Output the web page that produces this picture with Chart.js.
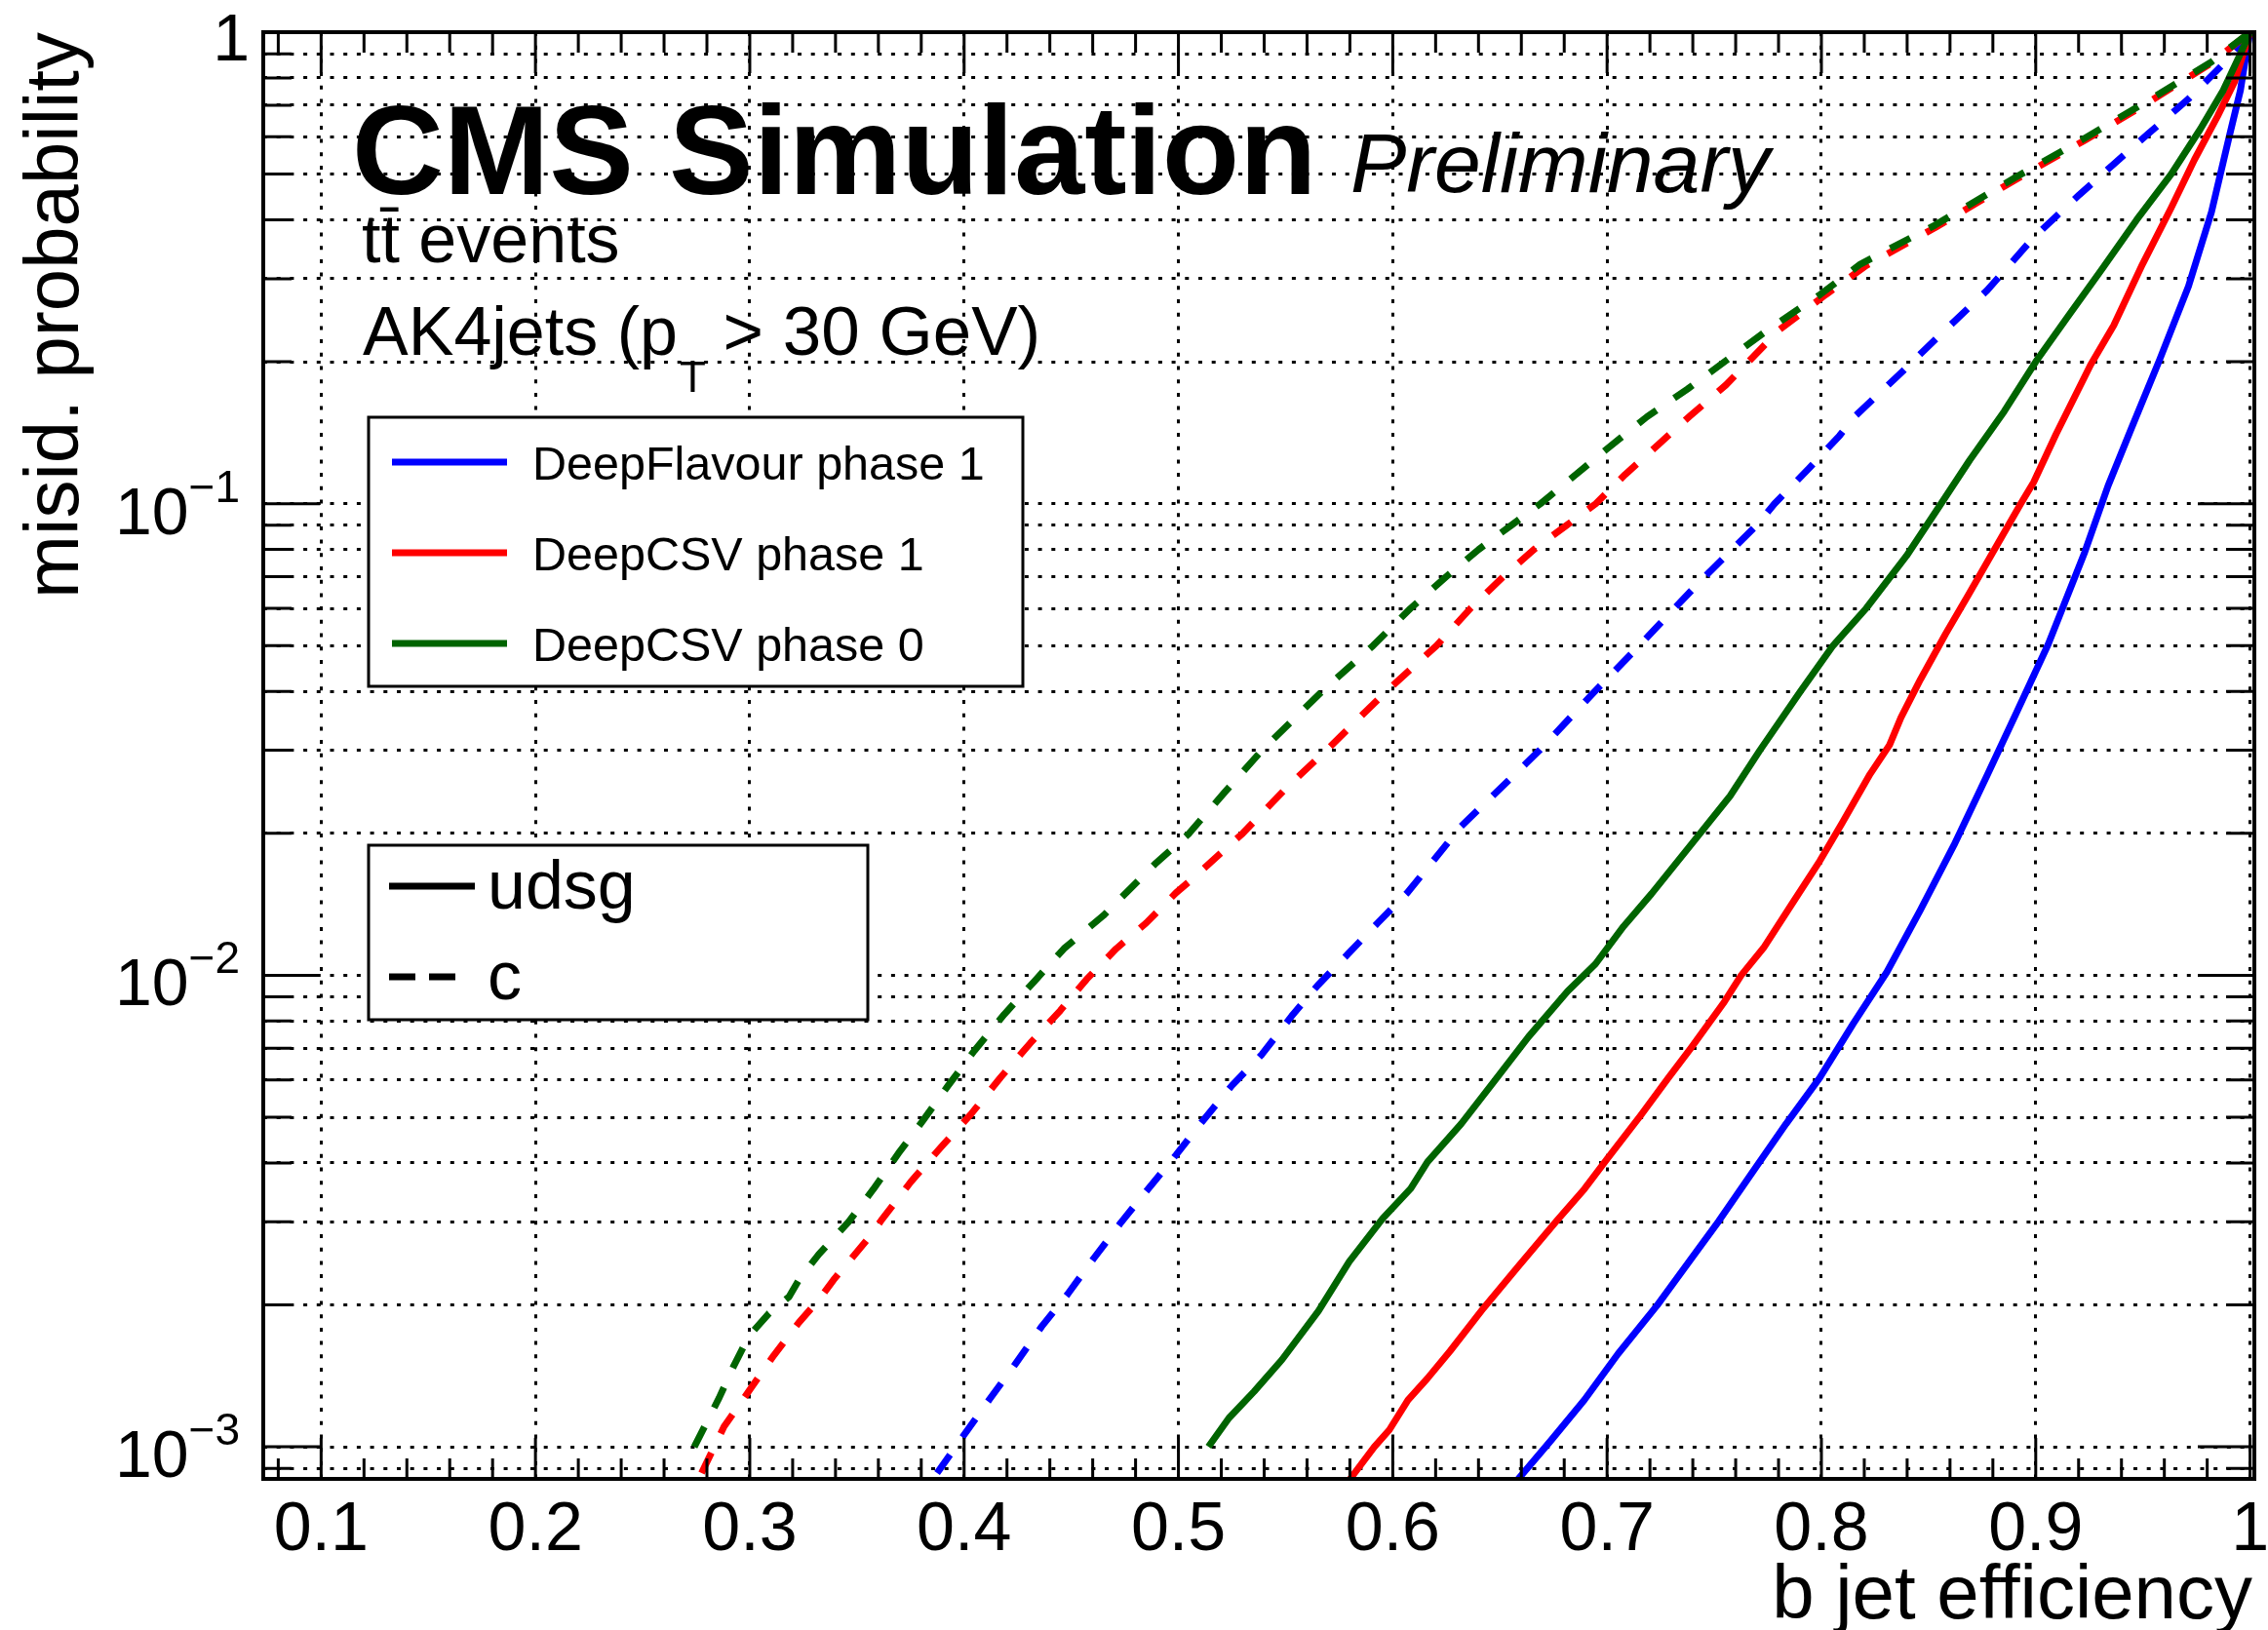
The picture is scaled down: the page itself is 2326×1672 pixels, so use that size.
<!DOCTYPE html>
<html>
<head>
<meta charset="utf-8">
<script src="https://cdn.jsdelivr.net/npm/chart.js@4/dist/chart.umd.min.js"></script>
<style>
  html, body { margin: 0; padding: 0; background: #ffffff; }
  canvas { display: block; }
</style>
</head>
<body>
<canvas id="c" width="2326" height="1672" style="width:2326px;height:1672px"></canvas>
<script>
// ---------------- data ----------------
const seriesNames = ['DeepFlavour phase 1', 'DeepCSV phase 1', 'DeepCSV phase 0'];
const flavourNames = ['udsg', 'c'];
const seriesColors = ['#0000ff', '#ff0000', '#006400'];

// DeepFlavour phase 1, udsg
const dfUdsgX = [0.6581, 0.6737, 0.6894, 0.7051, 0.7234, 0.7391, 0.7521, 0.7678, 0.7835, 0.7992, 0.8149, 0.8305, 0.8462, 0.8619, 0.8776, 0.8906, 0.9058, 0.9229, 0.9337, 0.9444, 0.9578, 0.9713, 0.982, 0.9901, 0.9955, 0.9982, 1.0];
const dfUdsgY = [0.00085, 0.00103, 0.001257, 0.001574, 0.001996, 0.0025, 0.00301, 0.00382, 0.00484, 0.00606, 0.0079, 0.01015, 0.01376, 0.0189, 0.0267, 0.0357, 0.0503, 0.079, 0.109, 0.1436, 0.202, 0.2894, 0.4155, 0.596, 0.753, 0.9, 1.0];
// DeepCSV phase 1, udsg
const csv1UdsgX = [0.5797, 0.5914, 0.5984, 0.6071, 0.6162, 0.6267, 0.6424, 0.6581, 0.6764, 0.6894, 0.6999, 0.7156, 0.7286, 0.7391, 0.7547, 0.7626, 0.7730, 0.7861, 0.7992, 0.8096, 0.8227, 0.8318, 0.8371, 0.8462, 0.8580, 0.8685, 0.8930, 0.899, 0.9095, 0.9256, 0.9364, 0.9498, 0.9633, 0.974, 0.9848, 0.9928, 1.0];
const csv1UdsgY = [0.00085, 0.001, 0.001086, 0.001257, 0.001397, 0.001595, 0.00197, 0.0024, 0.00301, 0.00352, 0.00407, 0.00504, 0.00606, 0.00701, 0.00878, 0.01, 0.01143, 0.01413, 0.01746, 0.021, 0.0267, 0.0308, 0.0352, 0.0424, 0.053, 0.064, 0.1, 0.111, 0.1405, 0.197, 0.239, 0.322, 0.425, 0.536, 0.663, 0.786, 1.0];
// DeepCSV phase 0, udsg
const csv0UdsgX = [0.514, 0.5235, 0.5353, 0.5483, 0.5653, 0.5797, 0.5953, 0.6084, 0.6162, 0.6319, 0.6476, 0.6633, 0.6816, 0.6946, 0.7077, 0.7208, 0.7391, 0.7574, 0.7713, 0.7902, 0.8054, 0.8209, 0.8397, 0.8558, 0.8692, 0.8853, 0.9000, 0.9149, 0.9310, 0.9471, 0.9632, 0.9767, 0.9875, 0.9955, 1.0];
const csv0UdsgY = [0.001, 0.00115, 0.00131, 0.00153, 0.00194, 0.00247, 0.00305, 0.00353, 0.00402, 0.00484, 0.00598, 0.0074, 0.00925, 0.01057, 0.0127, 0.0149, 0.0189, 0.024, 0.03, 0.04, 0.05, 0.06, 0.0775, 0.1, 0.1237, 0.157, 0.2, 0.249, 0.315, 0.4, 0.5, 0.622, 0.753, 0.9, 1.0];
// DeepFlavour phase 1, c
const dfCX = [0.3874, 0.3996, 0.4118, 0.424, 0.4362, 0.4484, 0.4605, 0.4727, 0.4849, 0.4989, 0.511, 0.525, 0.5389, 0.5528, 0.565, 0.5789, 0.5929, 0.6068, 0.6319, 0.6621, 0.6685, 0.6943, 0.715, 0.7314, 0.7455, 0.7584, 0.7698, 0.7781, 0.7940, 0.8085, 0.8155, 0.8369, 0.8558, 0.8773, 0.8988, 0.9203, 0.9364, 0.9525, 0.9713, 0.9875, 1.0];
const dfCY = [0.00088, 0.001054, 0.00126, 0.0015, 0.0018, 0.00211, 0.00251, 0.00297, 0.00348, 0.00416, 0.00489, 0.00584, 0.00679, 0.00819, 0.00952, 0.01107, 0.0129, 0.01496, 0.0207, 0.0281, 0.03, 0.04, 0.05, 0.06, 0.07, 0.08, 0.09, 0.1, 0.1186, 0.1395, 0.153, 0.189, 0.229, 0.2834, 0.366, 0.452, 0.525, 0.609, 0.722, 0.856, 1.0];
// DeepCSV phase 1, c
const csv1CX = [0.2775, 0.288, 0.2997, 0.3113, 0.3229, 0.3322, 0.3391, 0.3554, 0.3613, 0.3752, 0.3892, 0.4031, 0.417, 0.4309, 0.4449, 0.4571, 0.471, 0.4849, 0.4989, 0.5071, 0.530, 0.5505, 0.569, 0.578, 0.597, 0.6204, 0.6363, 0.6515, 0.6659, 0.6811, 0.6947, 0.7084, 0.7235, 0.7387, 0.7554, 0.7805, 0.802, 0.8209, 0.8531, 0.8907, 0.9229, 0.9471, 0.982, 1.0];
const csv1CY = [0.00088, 0.001104, 0.001315, 0.001565, 0.001835, 0.00205, 0.00226, 0.00277, 0.00302, 0.00365, 0.00432, 0.00507, 0.00607, 0.00718, 0.00842, 0.0098, 0.01139, 0.0129, 0.01496, 0.0161, 0.02, 0.025, 0.03, 0.0329, 0.04, 0.05, 0.06, 0.07, 0.08, 0.09, 0.1, 0.1153, 0.133, 0.1535, 0.1785, 0.234, 0.2775, 0.32, 0.385, 0.487, 0.59, 0.685, 0.86, 1.0];
// DeepCSV phase 0, c
const csv0CX = [0.2741, 0.2857, 0.2927, 0.2997, 0.309, 0.3183, 0.3229, 0.3322, 0.3461, 0.3577, 0.3693, 0.3804, 0.3926, 0.4048, 0.4188, 0.4327, 0.4466, 0.4651, 0.489, 0.505, 0.5211, 0.539, 0.567, 0.5908, 0.6083, 0.6249, 0.6401, 0.6553, 0.6689, 0.6993, 0.7187, 0.7375, 0.7493, 0.7751, 0.7993, 0.8181, 0.8531, 0.8907, 0.9229, 0.9471, 0.982, 1.0];
const csv0CY = [0.001, 0.00127, 0.00149, 0.00172, 0.00192, 0.00208, 0.00226, 0.00256, 0.003, 0.00352, 0.00419, 0.00489, 0.00584, 0.00692, 0.00827, 0.0097, 0.01139, 0.0134, 0.0172, 0.02, 0.0243, 0.03, 0.04, 0.05, 0.06, 0.07, 0.08, 0.09, 0.1, 0.13, 0.153, 0.175, 0.1917, 0.234, 0.2775, 0.322, 0.39, 0.4925, 0.596, 0.692, 0.865, 1.0];

// axis ticks / labels
const xTickValues = [0.1, 0.2, 0.3, 0.4, 0.5, 0.6, 0.7, 0.8, 0.9, 1.0];
const xTickLabels = ['0.1', '0.2', '0.3', '0.4', '0.5', '0.6', '0.7', '0.8', '0.9', '1'];
const yDecadeValues = [1, 0.1, 0.01, 0.001];
const yDecadeBase = ['1', '10', '10', '10'];
const yDecadeExp = ['', '\u22121', '\u22122', '\u22123'];
const xTitle = 'b jet efficiency';
const yTitle = 'misid. probability';

// ---------------- helpers ----------------
const pts = (xs, ys) => xs.map((x, i) => ({ x: x, y: ys[i] }));
const FONT = '"Liberation Sans", Arial, Helvetica, sans-serif';
const X_MIN = 0.073, X_MAX = 1.002, Y_MIN = 0.000855, Y_MAX = 1;

// log grid values: 0.0009, 1..9 x 10^-3 .. 10^-1, 1
const yGridValues = [0.0009];
for (let e = -3; e <= -1; e++) for (let m = 1; m <= 9; m++) yGridValues.push(+(m * Math.pow(10, e)).toPrecision(3));
yGridValues.push(1);
const xMinorValues = [];
for (let i = 4; i <= 50; i++) xMinorValues.push(+(i * 0.02).toFixed(2));

const dashC = [23, 22];

function ds(label, xs, ys, color, dashed) {
  return {
    label: label,
    data: pts(xs, ys),
    borderColor: color,
    backgroundColor: color,
    borderWidth: 7,
    borderDash: dashed ? dashC : [],
    pointRadius: 0,
    pointHoverRadius: 0,
    fill: false,
    tension: 0,
    borderJoinStyle: 'round'
  };
}

// ---------------- overlay plugin (frame, inner ticks, labels, texts, legends) ----------------
const overlay = {
  id: 'overlay',
  afterDraw(chart) {
    const { ctx, chartArea: a } = chart;
    const xs = chart.scales.x, ys = chart.scales.y;
    ctx.save();
    ctx.setLineDash([]);
    ctx.strokeStyle = '#000';
    ctx.fillStyle = '#000';

    // ticks (inside the frame)
    ctx.lineWidth = 3;
    ctx.beginPath();
    xMinorValues.forEach(v => {
      const px = xs.getPixelForValue(v);
      const major = Math.abs(v * 10 - Math.round(v * 10)) < 1e-6;
      const L = major ? 42 : 21;
      ctx.moveTo(px, a.bottom); ctx.lineTo(px, a.bottom - L);
      ctx.moveTo(px, a.top); ctx.lineTo(px, a.top + L);
    });
    yGridValues.forEach(v => {
      const py = ys.getPixelForValue(v);
      const major = yDecadeValues.indexOf(v) >= 0;
      const L = major ? 58 : 29;
      ctx.moveTo(a.left, py); ctx.lineTo(a.left + L, py);
      ctx.moveTo(a.right, py); ctx.lineTo(a.right - L, py);
    });
    ctx.stroke();

    // frame
    ctx.lineWidth = 4;
    ctx.strokeRect(a.left, a.top, a.right - a.left, a.bottom - a.top);

    // x tick labels
    ctx.textBaseline = 'alphabetic';
    ctx.textAlign = 'center';
    ctx.font = '70px ' + FONT;
    xTickValues.forEach((v, i) => {
      ctx.fillText(xTickLabels[i], xs.getPixelForValue(v), 1590);
    });

    // y tick labels (10 with superscript exponent)
    yDecadeValues.forEach((v, i) => {
      const py = ys.getPixelForValue(v);
      if (!yDecadeExp[i]) {
        ctx.font = '68px ' + FONT;
        ctx.textAlign = 'right';
        ctx.fillText(yDecadeBase[i], 256, py + 29);
      } else {
        ctx.font = '46px ' + FONT;
        ctx.textAlign = 'right';
        const right = 246;
        const ew = ctx.measureText(yDecadeExp[i]).width;
        ctx.fillText(yDecadeExp[i], right, py - 2);
        ctx.font = '68px ' + FONT;
        ctx.fillText(yDecadeBase[i], right - ew, py + 31);
      }
    });

    // axis titles
    ctx.font = '78px ' + FONT;
    ctx.textAlign = 'right';
    ctx.fillText(xTitle, 2310, 1660);
    ctx.save();
    ctx.translate(80, 33);
    ctx.rotate(-Math.PI / 2);
    ctx.textAlign = 'right';
    ctx.fillText(yTitle, 0, 0);
    ctx.restore();

    // CMS labels
    ctx.textAlign = 'left';
    ctx.font = 'bold 130px ' + FONT;
    ctx.fillText('CMS Simulation', 361, 199);
    ctx.font = 'italic 86px ' + FONT;
    ctx.fillText('Preliminary', 1385, 197);
    ctx.font = '70px ' + FONT;
    ctx.fillText('tt\u0304 events', 371, 269);
    ctx.fillText('AK4jets (p', 372, 364);
    const w1 = ctx.measureText('AK4jets (p').width;
    ctx.font = '44px ' + FONT;
    ctx.fillText('T', 372 + w1 + 2, 402);
    const wT = ctx.measureText('T').width;
    ctx.font = '71px ' + FONT;
    ctx.fillText(' > 30 GeV)', 372 + w1 + wT, 364);

    // legend 1 (taggers)
    ctx.fillStyle = '#fff';
    ctx.fillRect(378, 428, 671, 276);
    ctx.strokeStyle = '#000';
    ctx.lineWidth = 3;
    ctx.strokeRect(378, 428, 671, 276);
    const rows1 = [474, 567, 660];
    seriesNames.forEach((name, i) => {
      ctx.strokeStyle = seriesColors[i];
      ctx.lineWidth = 7;
      ctx.beginPath();
      ctx.moveTo(402, rows1[i]); ctx.lineTo(520, rows1[i]);
      ctx.stroke();
      ctx.fillStyle = '#000';
      ctx.font = '48.5px ' + FONT;
      ctx.textAlign = 'left';
      ctx.fillText(name, 546, rows1[i] + 18);
    });

    // legend 2 (flavours)
    ctx.fillStyle = '#fff';
    ctx.fillRect(378, 867, 512, 179);
    ctx.strokeStyle = '#000';
    ctx.lineWidth = 3;
    ctx.strokeRect(378, 867, 512, 179);
    const rows2 = [909, 1002];
    flavourNames.forEach((name, i) => {
      ctx.strokeStyle = '#000';
      ctx.lineWidth = 7;
      ctx.setLineDash(i === 1 ? [27, 14] : []);
      ctx.beginPath();
      ctx.moveTo(399, rows2[i]); ctx.lineTo(i === 1 ? 467 : 487, rows2[i]);
      ctx.stroke();
      ctx.setLineDash([]);
      ctx.fillStyle = '#000';
      ctx.font = '70px ' + FONT;
      ctx.textAlign = 'left';
      ctx.fillText(name, 500, rows2[i] + 23);
    });

    ctx.restore();
  }
};

// ---------------- chart ----------------
const gridStyle = { color: '#000000', lineWidth: 3, drawTicks: false };
const borderStyle = { display: false, dash: [4, 9.7] };

new Chart(document.getElementById('c'), {
  type: 'line',
  data: {
    datasets: [
      ds(seriesNames[2] + ' c', csv0CX, csv0CY, seriesColors[2], true),
      ds(seriesNames[2] + ' udsg', csv0UdsgX, csv0UdsgY, seriesColors[2], false),
      ds(seriesNames[1] + ' c', csv1CX, csv1CY, seriesColors[1], true),
      ds(seriesNames[1] + ' udsg', csv1UdsgX, csv1UdsgY, seriesColors[1], false),
      ds(seriesNames[0] + ' c', dfCX, dfCY, seriesColors[0], true),
      ds(seriesNames[0] + ' udsg', dfUdsgX, dfUdsgY, seriesColors[0], false)
    ]
  },
  options: {
    responsive: false,
    devicePixelRatio: 1,
    animation: false,
    events: [],
    layout: { padding: { left: 270, right: 14, top: 33, bottom: 155 } },
    plugins: { legend: { display: false }, tooltip: { enabled: false }, title: { display: false } },
    scales: {
      x: {
        type: 'linear',
        min: X_MIN, max: X_MAX,
        afterBuildTicks: s => { s.ticks = xTickValues.map(v => ({ value: v })); },
        ticks: { display: false },
        grid: gridStyle,
        border: borderStyle
      },
      y: {
        type: 'logarithmic',
        min: Y_MIN, max: Y_MAX,
        afterBuildTicks: s => { s.ticks = yGridValues.map(v => ({ value: v })); },
        ticks: { display: false },
        grid: gridStyle,
        border: borderStyle
      }
    }
  },
  plugins: [overlay]
});
</script>
</body>
</html>
